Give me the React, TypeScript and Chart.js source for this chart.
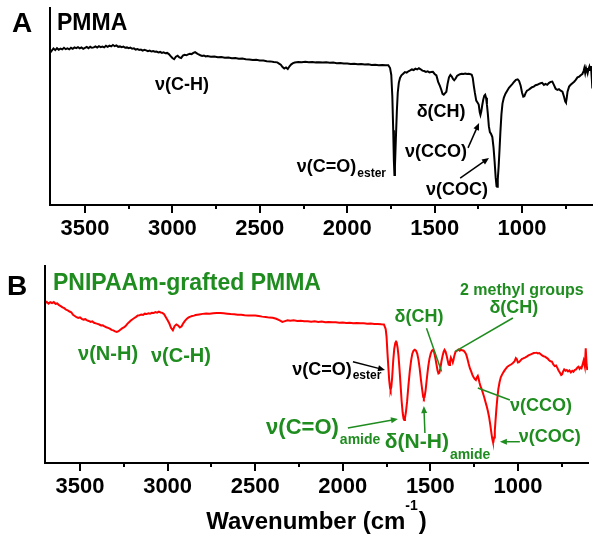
import React, { useEffect, useRef } from 'react';
import { Chart, registerables } from 'chart.js';

Chart.register(...registerables);

const FONT = '"Liberation Sans", Arial, Helvetica, sans-serif';
const GREEN = '#1f8c1f';

const X_MIN = 600;
const X_MAX = 3700;
const TICK_LABELS = [3500, 3000, 2500, 2000, 1500, 1000];
const MINOR_TICKS = [3250, 2750, 2250, 1750, 1250, 750];

// Panel A: PMMA (wavenumber cm-1, transmittance a.u.)
const WN_A = [
  3700, 3690, 3680, 3670, 3660, 3650, 3640, 3630, 3620, 3610,
  3600, 3590, 3580, 3570, 3560, 3550, 3540, 3530, 3520, 3510,
  3500, 3490, 3480, 3470, 3460, 3450, 3440, 3430, 3420, 3410,
  3400, 3390, 3380, 3370, 3360, 3350, 3340, 3330, 3320, 3310,
  3300, 3290, 3280, 3270, 3260, 3250, 3240, 3230, 3220, 3210,
  3200, 3190, 3180, 3170, 3160, 3150, 3140, 3130, 3120, 3110,
  3100, 3090, 3080, 3070, 3060, 3050, 3040, 3030, 3020, 3010,
  3000, 2990, 2980, 2970, 2960, 2950, 2940, 2930, 2920, 2910,
  2900, 2890, 2880, 2870, 2860, 2850, 2840, 2830, 2820, 2810,
  2800, 2780, 2760, 2740, 2720, 2700, 2680, 2660, 2640, 2620,
  2600, 2580, 2560, 2540, 2520, 2500, 2480, 2460, 2440, 2420,
  2400, 2390, 2380, 2370, 2360, 2350, 2340, 2330, 2320, 2310,
  2300, 2280, 2260, 2240, 2220, 2200, 2180, 2160, 2140, 2120,
  2100, 2080, 2060, 2040, 2020, 2000, 1980, 1960, 1940, 1920,
  1900, 1880, 1860, 1840, 1820, 1800, 1780, 1765, 1755, 1748,
  1742, 1737, 1733, 1730, 1727, 1722, 1716, 1711, 1705, 1698,
  1690, 1680, 1670, 1660, 1650, 1640, 1630, 1620, 1610, 1600,
  1590, 1580, 1570, 1560, 1550, 1540, 1530, 1520, 1510, 1500,
  1490, 1480, 1470, 1462, 1455, 1448, 1440, 1433, 1426, 1418,
  1410, 1402, 1395, 1388, 1380, 1372, 1365, 1355, 1345, 1335,
  1325, 1315, 1305, 1295, 1288, 1282, 1276, 1270, 1262, 1255,
  1248, 1242, 1238, 1233, 1228, 1222, 1216, 1211, 1206, 1201,
  1196, 1190, 1184, 1177, 1170, 1163, 1157, 1151, 1146, 1143,
  1139, 1134, 1129, 1124, 1118, 1112, 1104, 1095, 1085, 1075,
  1065, 1055, 1045, 1035, 1025, 1017, 1008, 1000, 993, 987,
  980, 972, 962, 952, 943, 933, 923, 913, 903, 894,
  885, 875, 866, 856, 847, 837, 827, 818, 808, 798,
  789, 779, 769, 760, 753, 749, 745, 740, 731, 722,
  712, 702, 693, 683, 673, 663, 655, 648, 644, 639,
  634, 629, 625, 620, 615, 611, 606, 601, 598,
];
const T_A = [
  77.2, 78.4, 79.5, 78.6, 79.6, 78.8, 79.4, 79.0, 79.8, 79.1,
  79.5, 79.0, 79.8, 79.3, 80.0, 79.6, 80.1, 79.5, 80.0, 79.3,
  79.8, 80.2, 79.6, 80.3, 79.8, 80.0, 80.5, 79.9, 80.6, 80.1,
  80.4, 80.0, 80.8, 80.3, 80.9, 80.5, 81.2, 80.6, 81.0, 80.3,
  80.5, 80.1, 80.4, 79.8, 80.0, 79.6, 79.9, 79.3, 79.5, 78.9,
  79.2, 78.7, 78.9, 78.4, 78.8, 78.5, 78.1, 78.4, 77.9, 78.1,
  77.8, 77.9, 77.4, 77.7, 77.2, 77.5, 77.0, 77.2, 76.6, 75.6,
  74.6, 74.0, 75.3, 75.8, 74.9, 74.6, 75.8, 76.2, 76.0, 76.5,
  76.8, 76.6, 77.2, 77.6, 77.0, 76.4, 76.0, 75.7, 75.9, 75.4,
  75.6, 75.3, 75.4, 75.0, 75.1, 74.8, 74.9, 74.5, 74.6, 74.2,
  74.3, 74.0, 73.9, 73.6, 73.7, 73.4, 73.3, 73.0, 72.9, 72.6,
  72.4, 71.8, 71.2, 70.0, 69.3, 69.8, 69.0, 70.4, 71.4, 72.0,
  72.3, 72.6, 72.5, 72.7, 72.5, 72.6, 72.4, 72.5, 72.3, 72.4,
  72.2, 72.3, 72.0, 72.1, 71.8, 71.8, 71.6, 71.7, 71.5, 71.6,
  71.3, 71.4, 71.1, 71.2, 71.0, 71.1, 70.9, 70.9, 69.5, 66.0,
  55.0, 38.0, 22.0, 15.2, 20.0, 33.0, 48.0, 57.0, 62.0, 64.5,
  65.8, 66.6, 67.5, 67.2, 67.9, 68.3, 68.8, 68.5, 69.2, 68.8,
  69.4, 68.9, 68.2, 68.0, 67.6, 67.9, 67.3, 67.5, 67.6, 66.5,
  65.8, 62.5, 60.5, 58.5, 56.4, 56.0, 56.8, 57.5, 61.5, 64.8,
  66.0, 65.2, 64.0, 63.3, 64.2, 65.5, 65.9, 66.4, 66.6, 66.5,
  66.7, 66.5, 66.6, 66.4, 66.1, 64.5, 60.5, 57.0, 53.0, 52.0,
  51.0, 47.0, 45.7, 47.5, 50.5, 53.5, 55.5, 56.0, 54.5, 51.0,
  46.5, 40.0, 37.0, 36.0, 34.5, 29.0, 22.0, 14.0, 9.5, 9.3,
  13.0, 19.5, 28.0, 37.0, 46.0, 51.5, 54.5, 56.5, 58.0, 59.5,
  60.5, 61.5, 62.6, 63.5, 63.8, 63.0, 60.5, 57.0, 55.0, 55.2,
  56.8, 58.0, 58.5, 59.2, 59.8, 60.1, 60.8, 61.0, 61.5, 61.8,
  62.0, 61.0, 61.5, 61.0, 61.9, 62.5, 62.6, 61.0, 59.0, 58.4,
  58.8, 58.0, 57.5, 55.0, 52.5, 52.0, 54.0, 57.5, 60.1, 61.0,
  61.8, 62.6, 63.5, 64.8, 65.2, 66.0, 66.5, 68.0, 69.4, 67.0,
  69.5, 68.0, 66.9, 69.0, 70.2, 68.5, 70.5, 64.0, 59.2,
];

// Panel B: PNIPAAm-grafted PMMA
const WN_B = [
  3700, 3690, 3680, 3670, 3660, 3650, 3640, 3630, 3620, 3610,
  3600, 3590, 3580, 3570, 3560, 3550, 3540, 3530, 3520, 3510,
  3500, 3490, 3480, 3470, 3460, 3450, 3440, 3430, 3420, 3410,
  3400, 3390, 3380, 3370, 3360, 3350, 3340, 3330, 3320, 3310,
  3300, 3290, 3280, 3270, 3260, 3250, 3240, 3230, 3220, 3210,
  3200, 3190, 3180, 3170, 3160, 3150, 3140, 3130, 3120, 3110,
  3100, 3090, 3080, 3070, 3060, 3050, 3040, 3030, 3020, 3010,
  3000, 2990, 2980, 2970, 2960, 2950, 2940, 2930, 2920, 2910,
  2900, 2890, 2880, 2870, 2860, 2850, 2840, 2820, 2800, 2780,
  2760, 2740, 2720, 2700, 2680, 2660, 2640, 2620, 2600, 2580,
  2560, 2540, 2520, 2500, 2480, 2460, 2440, 2420, 2400, 2380,
  2360, 2345, 2330, 2315, 2300, 2280, 2260, 2240, 2220, 2200,
  2180, 2160, 2140, 2120, 2100, 2080, 2060, 2040, 2020, 2000,
  1980, 1960, 1940, 1920, 1900, 1880, 1860, 1840, 1820, 1800,
  1780, 1765, 1755, 1750, 1745, 1740, 1735, 1730, 1727, 1723,
  1718, 1712, 1706, 1700, 1696, 1692, 1687, 1682, 1676, 1670,
  1664, 1658, 1653, 1649, 1645, 1640, 1633, 1625, 1617, 1610,
  1603, 1596, 1589, 1582, 1575, 1568, 1561, 1554, 1547, 1541,
  1537, 1533, 1527, 1520, 1512, 1505, 1498, 1491, 1485, 1479,
  1472, 1465, 1459, 1454, 1449, 1443, 1437, 1430, 1424, 1419,
  1413, 1407, 1401, 1396, 1392, 1388, 1383, 1378, 1372, 1368,
  1363, 1356, 1348, 1340, 1332, 1325, 1318, 1310, 1302, 1295,
  1288, 1281, 1274, 1267, 1260, 1253, 1246, 1240, 1234, 1229,
  1225, 1220, 1214, 1207, 1200, 1193, 1186, 1179, 1172, 1165,
  1158, 1152, 1147, 1143, 1140, 1136, 1132, 1128, 1123, 1118,
  1112, 1105, 1098, 1090, 1080, 1070, 1060, 1050, 1040, 1030,
  1020, 1012, 1006, 1000, 994, 986, 978, 970, 960, 950,
  940, 930, 920, 910, 900, 894, 886, 878, 870, 862,
  854, 846, 838, 830, 822, 814, 806, 798, 790, 782,
  775, 768, 760, 753, 748, 742, 736, 728, 721, 714,
  706, 698, 690, 683, 676, 668, 660, 654, 648, 642,
  637, 631, 625, 618, 613, 608, 604,
];
const T_B = [
  81.0, 81.8, 80.9, 81.6, 81.2, 81.7, 80.8, 81.0, 80.1, 79.6,
  79.0, 78.6, 77.8, 77.5, 76.9, 76.5, 75.2, 74.6, 74.0, 73.6,
  73.9, 73.2, 72.8, 73.0, 72.4, 72.1, 71.6, 71.9, 71.2, 70.9,
  70.6, 70.3, 69.8, 69.9, 69.3, 68.9, 68.6, 68.2, 67.6, 67.3,
  66.8, 66.5, 66.9, 67.6, 68.3, 68.8, 69.5, 70.6, 71.5, 72.3,
  73.0, 73.6, 74.2, 74.9, 75.0, 75.4, 75.2, 75.8, 75.6, 76.0,
  75.8, 76.2, 76.1, 76.6, 76.3, 76.8, 76.4, 76.2, 75.5, 74.0,
  72.5, 70.8, 68.5, 67.4, 69.5, 70.3, 69.8, 68.8, 69.4, 71.0,
  72.3, 73.2, 73.9, 74.3, 74.6, 74.8, 75.1, 75.4, 75.7, 75.9,
  75.8, 76.0, 76.2, 76.1, 76.0, 75.8, 75.6, 75.5, 75.3, 75.2,
  75.0, 74.9, 74.9, 74.9, 74.6, 74.3, 74.1, 73.8, 73.7, 73.2,
  72.4, 71.6, 72.0, 72.4, 72.2, 72.4, 72.1, 72.2, 71.9, 72.0,
  71.7, 71.9, 71.6, 71.8, 71.5, 71.6, 71.4, 71.5, 71.2, 71.3,
  71.1, 71.2, 71.0, 71.1, 70.9, 70.9, 70.7, 70.8, 70.6, 70.6,
  70.4, 70.3, 68.0, 64.0, 56.0, 48.9, 42.0, 38.0, 37.1, 38.5,
  43.5, 52.0, 58.0, 61.0, 61.6, 61.0, 58.5, 54.5, 47.5, 39.5,
  31.5, 25.5, 22.5, 21.8, 22.8, 25.5, 31.0, 39.5, 47.0, 52.0,
  55.5, 57.0, 57.5, 57.0, 55.5, 52.5, 48.0, 42.5, 37.5, 33.5,
  32.8, 33.5, 37.0, 43.0, 49.0, 53.0, 55.5, 57.0, 57.4, 56.5,
  53.5, 50.0, 47.0, 45.5, 45.8, 48.0, 51.4, 54.5, 56.5, 57.4,
  56.5, 54.5, 52.0, 50.0, 49.7, 51.5, 53.5, 52.5, 51.0, 52.3,
  54.5, 56.5, 57.0, 57.6, 57.0, 57.5, 57.2, 57.0, 56.2, 55.0,
  52.8, 50.2, 48.0, 46.5, 44.7, 43.5, 42.6, 42.1, 43.5, 44.2,
  43.0, 41.0, 39.0, 37.5, 35.5, 33.5, 31.2, 29.0, 26.5, 23.5,
  19.5, 15.5, 12.5, 10.9, 10.8, 13.0, 16.5, 21.5, 27.5, 32.5,
  37.5, 41.0, 43.5, 45.0, 46.5, 47.8, 48.9, 49.5, 50.0, 50.6,
  51.5, 53.2, 52.6, 51.0, 51.2, 52.0, 52.8, 53.1, 53.5, 54.0,
  54.6, 55.0, 55.4, 55.8, 55.9, 56.0, 55.6, 55.8, 55.2, 54.6,
  54.2, 54.0, 53.5, 53.0, 52.2, 51.6, 51.5, 50.0, 49.2, 49.5,
  48.3, 47.0, 45.8, 44.7, 45.0, 46.5, 47.5, 46.8, 47.2, 46.5,
  47.0, 46.0, 46.8, 46.3, 47.2, 47.5, 48.5, 48.9, 47.8, 48.5,
  48.1, 50.0, 52.0, 49.0, 58.2, 50.0, 47.2,
];

type Annot = { text: string; sub?: string; x: number; y: number; size: number; subSize?: number; subDy?: number; color: string };
type Arrow = { from: [number, number]; to: [number, number]; head: boolean; color: string };

const ANNOT_A: Annot[] = [
  { text: 'ν(C-H)', x: 2945, y: 60.9, size: 18, color: '#000' },
  { text: 'ν(C=O)', sub: 'ester', x: 2118, y: 19.3, size: 18, subSize: 12, subDy: 7, color: '#000' },
  { text: 'δ(CH)', x: 1463, y: 47.2, size: 18, color: '#000' },
  { text: 'ν(CCO)', x: 1492, y: 26.9, size: 18, color: '#000' },
  { text: 'ν(COC)', x: 1372, y: 7.6, size: 18, color: '#000' },
];
const ARROWS_A: Arrow[] = [
  { from: [1309, 29.0], to: [1246, 41.6], head: true, color: '#000' },
  { from: [1354, 13.7], to: [1189, 23.9], head: true, color: '#000' },
];

const ANNOT_B: Annot[] = [
  { text: 'ν(N-H)', x: 3340, y: 55.3, size: 20, color: GREEN },
  { text: 'ν(C-H)', x: 2924, y: 54.3, size: 20, color: GREEN },
  { text: 'ν(C=O)', sub: 'ester', x: 2119, y: 47.2, size: 18, subSize: 12, subDy: 6, color: '#000' },
  { text: 'δ(CH)', x: 1565, y: 74.3, size: 18, color: GREEN },
  { text: '2 methyl groups', x: 978, y: 87.3, size: 16, color: GREEN },
  { text: 'δ(CH)', x: 1023, y: 78.7, size: 18, color: GREEN },
  { text: 'ν(CCO)', x: 869, y: 28.9, size: 18, color: GREEN },
  { text: 'ν(COC)', x: 818, y: 13.4, size: 18, color: GREEN },
  { text: 'ν(C=O)', sub: 'amide', x: 2230, y: 17.6, size: 22, subSize: 14, subDy: 12, color: GREEN },
  { text: 'δ(N-H)', sub: 'amide', x: 1577, y: 10.8, size: 21, subSize: 14, subDy: 13, color: GREEN },
];
const ARROWS_B: Arrow[] = [
  { from: [1942, 51.4], to: [1759, 47.2], head: true, color: '#000' },
  { from: [1522, 68.4], to: [1436, 46.4], head: false, color: GREEN },
  { from: [1029, 73.6], to: [1360, 56.5], head: false, color: GREEN },
  { from: [1046, 32.0], to: [1229, 38.1], head: false, color: GREEN },
  { from: [989, 10.8], to: [1103, 10.8], head: true, color: GREEN },
  { from: [1971, 17.8], to: [1685, 22.3], head: true, color: GREEN },
  { from: [1531, 15.2], to: [1537, 28.9], head: true, color: GREEN },
];

type Decor = {
  letter: string; letterDx: number; letterDy: number;
  title: string; titleColor: string; titleDx: number; titleDy: number;
  annots: Annot[]; arrows: Arrow[]; axisTitle: boolean;
};

function makeDecor(d: Decor) {
  return {
    id: 'decor',
    afterDraw(chart: any) {
      const { ctx, chartArea: ca, scales } = chart;
      const xs = scales.x;
      const ys = scales.y;
      ctx.save();
      // axes lines
      ctx.strokeStyle = '#000';
      ctx.lineWidth = 2;
      ctx.lineCap = 'square';
      ctx.beginPath();
      ctx.moveTo(ca.left, ca.top);
      ctx.lineTo(ca.left, ca.bottom);
      ctx.lineTo(ca.right, ca.bottom);
      ctx.stroke();
      ctx.lineCap = 'butt';
      // ticks
      ctx.beginPath();
      for (const v of TICK_LABELS) {
        const px = Math.round(xs.getPixelForValue(v));
        ctx.moveTo(px, ca.bottom);
        ctx.lineTo(px, ca.bottom + 8);
      }
      for (const v of MINOR_TICKS) {
        const px = Math.round(xs.getPixelForValue(v));
        ctx.moveTo(px, ca.bottom);
        ctx.lineTo(px, ca.bottom + 4);
      }
      ctx.stroke();

      // panel letter and title
      ctx.textBaseline = 'middle';
      ctx.fillStyle = '#000';
      ctx.font = `bold 28px ${FONT}`;
      ctx.textAlign = 'center';
      ctx.fillText(d.letter, ca.left + d.letterDx, ca.top + d.letterDy);
      ctx.font = `bold 23px ${FONT}`;
      ctx.textAlign = 'left';
      ctx.fillStyle = d.titleColor;
      ctx.fillText(d.title, ca.left + d.titleDx, ca.top + d.titleDy);

      // arrows
      for (const a of d.arrows) {
        const x1 = xs.getPixelForValue(a.from[0]);
        const y1 = ys.getPixelForValue(a.from[1]);
        const x2 = xs.getPixelForValue(a.to[0]);
        const y2 = ys.getPixelForValue(a.to[1]);
        ctx.strokeStyle = a.color;
        ctx.fillStyle = a.color;
        ctx.lineWidth = 1.5;
        const ang = Math.atan2(y2 - y1, x2 - x1);
        const hl = a.head ? 7 : 0;
        ctx.beginPath();
        ctx.moveTo(x1, y1);
        ctx.lineTo(x2 - Math.cos(ang) * hl * 0.8, y2 - Math.sin(ang) * hl * 0.8);
        ctx.stroke();
        if (a.head) {
          ctx.beginPath();
          ctx.moveTo(x2, y2);
          ctx.lineTo(x2 - hl * Math.cos(ang) + 3 * Math.sin(ang), y2 - hl * Math.sin(ang) - 3 * Math.cos(ang));
          ctx.lineTo(x2 - hl * Math.cos(ang) - 3 * Math.sin(ang), y2 - hl * Math.sin(ang) + 3 * Math.cos(ang));
          ctx.closePath();
          ctx.fill();
        }
      }

      // annotations
      for (const a of d.annots) {
        const x = xs.getPixelForValue(a.x);
        const y = ys.getPixelForValue(a.y);
        ctx.fillStyle = a.color;
        ctx.font = `bold ${a.size}px ${FONT}`;
        ctx.textAlign = 'left';
        ctx.textBaseline = 'middle';
        const w = ctx.measureText(a.text).width;
        ctx.fillText(a.text, x - w / 2, y);
        if (a.sub) {
          ctx.font = `bold ${a.subSize}px ${FONT}`;
          ctx.fillText(a.sub, x + w / 2 + 1, y + (a.subDy || 0));
        }
      }

      // x axis title
      if (d.axisTitle) {
        const main = 'Wavenumber (cm';
        const sup = '-1';
        const end = ')';
        ctx.fillStyle = '#000';
        ctx.font = `bold 24px ${FONT}`;
        const w1 = ctx.measureText(main).width;
        const w3 = ctx.measureText(end).width;
        ctx.font = `bold 14px ${FONT}`;
        const w2 = ctx.measureText(sup).width;
        const total = w1 + w2 + w3 + 1;
        const cx = (ca.left + ca.right) / 2;
        const ty = ca.bottom + 59;
        let sx = cx - total / 2;
        ctx.textAlign = 'left';
        ctx.font = `bold 24px ${FONT}`;
        ctx.fillText(main, sx, ty);
        sx += w1;
        ctx.font = `bold 14px ${FONT}`;
        ctx.fillText(sup, sx, ty - 16);
        sx += w2 + 1;
        ctx.font = `bold 24px ${FONT}`;
        ctx.fillText(end, sx, ty);
      }
      ctx.restore();
    },
  };
}

function buildConfig(wn: number[], vals: number[], color: string, pad: any, decor: any): any {
  return {
    type: 'line',
    data: {
      datasets: [
        {
          data: wn.map((x, i) => ({ x, y: vals[i] })),
          borderColor: color,
          borderWidth: 2,
          pointRadius: 0,
          tension: 0,
          fill: false,
        },
      ],
    },
    options: {
      responsive: false,
      animation: false,
      events: [],
      layout: { padding: pad },
      plugins: { legend: { display: false }, tooltip: { enabled: false } },
      scales: {
        x: {
          type: 'linear',
          reverse: true,
          min: X_MIN,
          max: X_MAX,
          afterBuildTicks: (s: any) => {
            s.ticks = TICK_LABELS.map((v) => ({ value: v }));
          },
          afterFit: (s: any) => {
            s.height = 40;
          },
          grid: { display: false, drawTicks: false },
          border: { display: false },
          ticks: {
            autoSkip: false,
            maxRotation: 0,
            minRotation: 0,
            padding: 11,
            color: '#000',
            font: { family: FONT, size: 22, weight: 'bold' },
            callback: (v: any) => String(v),
          },
        },
        y: { display: false, min: 0, max: 100 },
      },
    },
    plugins: [decor],
  };
}

export default function App() {
  const refA = useRef<HTMLCanvasElement>(null);
  const refB = useRef<HTMLCanvasElement>(null);

  useEffect(() => {
    const chartA = new Chart(
      refA.current as HTMLCanvasElement,
      buildConfig(WN_A, T_A, '#000000', { left: 50, right: 10, top: 8, bottom: 15 },
        makeDecor({
          letter: 'A', letterDx: -28, letterDy: 16,
          title: 'PMMA', titleColor: '#000', titleDx: 7, titleDy: 15.5,
          annots: ANNOT_A, arrows: ARROWS_A, axisTitle: false,
        }))
    );
    const chartB = new Chart(
      refB.current as HTMLCanvasElement,
      buildConfig(WN_B, T_B, '#ff0000', { left: 45, right: 14, top: 6, bottom: 41 },
        makeDecor({
          letter: 'B', letterDx: -28, letterDy: 21.5,
          title: 'PNIPAAm-grafted PMMA', titleColor: GREEN, titleDx: 8, titleDy: 18,
          annots: ANNOT_B, arrows: ARROWS_B, axisTitle: true,
        }))
    );
    return () => {
      chartA.destroy();
      chartB.destroy();
    };
  }, []);

  return (
    <div style={{ position: 'fixed', left: 0, top: 0, width: 602, height: 544, background: '#fff' }}>
      <canvas ref={refA} width={602} height={260} style={{ position: 'absolute', left: 0, top: 0, width: 602, height: 260 }} />
      <canvas ref={refB} width={602} height={284} style={{ position: 'absolute', left: 0, top: 260, width: 602, height: 284 }} />
    </div>
  );
}
